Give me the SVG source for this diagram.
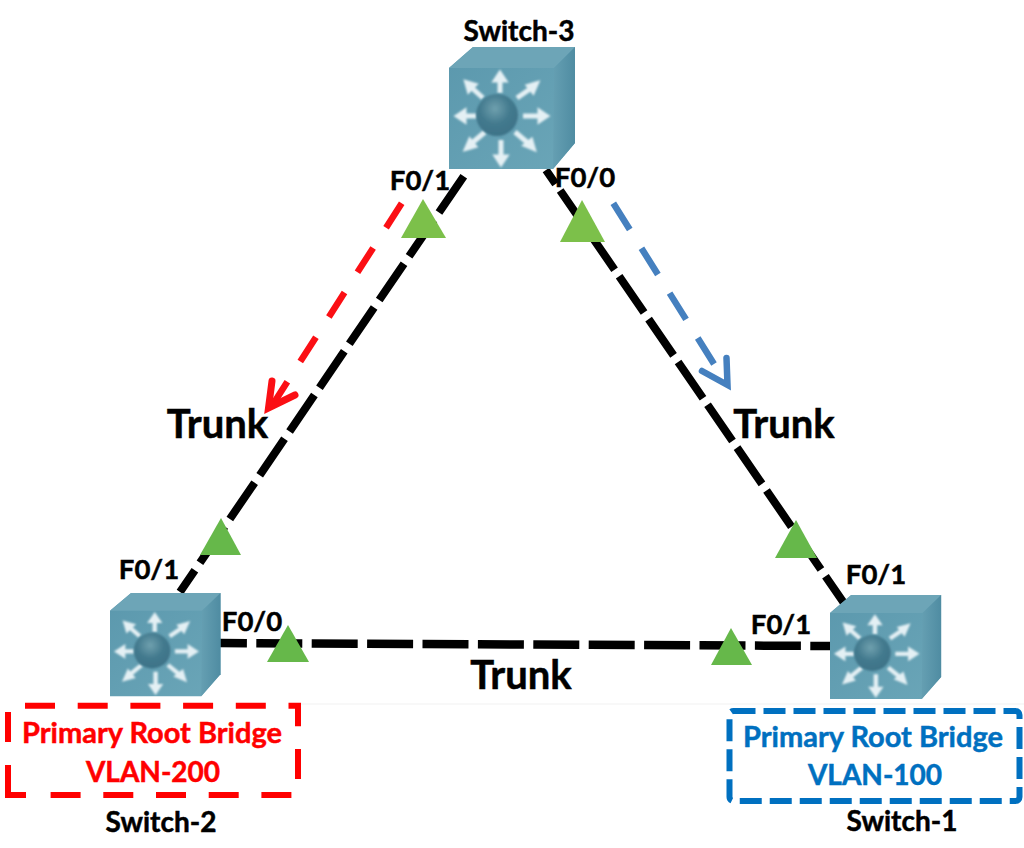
<svg xmlns="http://www.w3.org/2000/svg" xmlns:xlink="http://www.w3.org/1999/xlink" width="1024" height="848" viewBox="0 0 1024 848">
<style>
text{font-family:"Lato","Open Sans","Liberation Sans",sans-serif;font-weight:700;fill:#000;stroke:#000;stroke-width:.5;text-anchor:middle}
.sw{font-size:28px}.port{font-size:27.5px}.trunk{font-size:40px}.rb{font-size:29px}.vl{font-size:28px}
.red{fill:#ff0000;stroke:#ff0000}.blue{fill:#0070c0;stroke:#0070c0}
.link{stroke:#000;fill:none}
.tri{fill:#66b84a}.tri2{fill:#7cc04a}
</style>
<defs>
<filter id="soft" x="-10%" y="-10%" width="120%" height="120%"><feGaussianBlur stdDeviation="1"/></filter>
<linearGradient id="front" x1="0" y1="0" x2="1" y2="1"><stop offset="0" stop-color="#5b98ad"/><stop offset="1" stop-color="#6ba6b8"/></linearGradient>
<linearGradient id="side" x1="0" y1="0" x2="1" y2="0"><stop offset="0" stop-color="#659fb2"/><stop offset="1" stop-color="#4f8ca2"/></linearGradient>
<radialGradient id="ball" cx="0.45" cy="0.35" r="0.65"><stop offset="0" stop-color="#6fa0ae"/><stop offset="0.55" stop-color="#437a8e"/><stop offset="1" stop-color="#3d7287"/></radialGradient>
<g id="switchIcon">
<path d="M0 21L24 0H126V96L104 122H0Z" fill="url(#front)"/>
<path d="M0 21L24 0H126L105 21Z" fill="#6da5b7"/>
<path d="M105 21L126 0V96L104 122Z" fill="url(#side)"/>
<g fill="#e4f0f4" stroke="#e4f0f4" stroke-width="5" filter="url(#soft)">
<path d="M51 46V32M51 27l-4 6h8z"/>
<path d="M52 93V111M52 116l-4-6h8z"/>
<path d="M28 69H14M9 69l6-4v8z"/>
<path d="M74 69H92M97 69l-6-4v8z"/>
<path d="M34 51L23 41M18 36l2 7 5-5z"/>
<path d="M68 51L81 42M87 37l-7 2 4 5z"/>
<path d="M36 85L23 96M18 101l7-2-4-5z"/>
<path d="M66 85L79 96M84 101l-2-7-5 4z"/>
</g>
<circle cx="48" cy="68" r="21" fill="url(#ball)" filter="url(#soft)"/>
</g>
</defs>
<rect width="1024" height="848" fill="#fff"/>
<path d="M296 704H1024" stroke="#f1f1f1" stroke-width="1"/>
<g id="connectors">
<path class="link" stroke-width="8" stroke-dasharray="44 9" stroke-dashoffset="45.5" d="M468 170L180 592"/>
<path class="link" stroke-width="8" stroke-dasharray="44 8" stroke-dashoffset="27" d="M546 170L846 606"/>
<path class="link" stroke-width="8.5" stroke-dasharray="46 9.4" stroke-dashoffset="19.1" d="M220 643L832 646"/>
<path d="M401.7 203.3L268 412" fill="none" stroke="#fb0f14" stroke-width="6.5" stroke-dasharray="29 24"/>
<path d="M272 381L268.5 408L295 395" fill="none" stroke="#fb0f14" stroke-width="7" stroke-linecap="round"/>
<path d="M613.3 203.3L714 364" fill="none" stroke="#4580bf" stroke-width="6.5" stroke-dasharray="31 22"/>
<path d="M726.5 358L727.5 385L702 371" fill="none" stroke="#4580bf" stroke-width="6.5" stroke-linecap="round"/>
</g>
<g id="switch-3"><use href="#switchIcon" xlink:href="#switchIcon" transform="translate(449 47)"/><text class="sw" x="519" y="41">Switch-3</text></g>
<g id="switch-2"><use href="#switchIcon" xlink:href="#switchIcon" transform="translate(110 593) scale(.877 .847)"/><text class="sw" x="161" y="832">Switch-2</text></g>
<g id="switch-1"><use href="#switchIcon" xlink:href="#switchIcon" transform="translate(830 595) scale(.882 .853)"/><text class="sw" x="902" y="831">Switch-1</text></g>
<g id="link-lights">
<path class="tri2" d="M423 199L446 238H401Z"/>
<path class="tri2" d="M582 200L605 242H560Z"/>
<path class="tri" d="M221 518L241 555H200Z"/>
<path class="tri" d="M796 520L817 558H775Z"/>
<path class="tri" d="M288 625L309 662H267Z"/>
<path class="tri" d="M731 628L752 665H711Z"/>
</g>
<g id="ports">
<text class="port" x="420" y="190">F0/1</text>
<text class="port" x="585" y="187">F0/0</text>
<text class="port" x="149" y="579">F0/1</text>
<text class="port" x="252" y="631">F0/0</text>
<text class="port" x="876" y="584">F0/1</text>
<text class="port" x="781" y="634">F0/1</text>
</g>
<g id="trunks">
<text class="trunk" x="217.5" y="438">Trunk</text>
<text class="trunk" x="784" y="438">Trunk</text>
<text class="trunk" x="521" y="689">Trunk</text>
</g>
<g id="root-red" fill="none" stroke="#ff0000" stroke-width="6">
<path d="M25 705.7H298V795H50" stroke-dasharray="30 22.7"/>
<path d="M8 765V795H26M8 712V742"/>
<text class="rb red" x="152" y="743">Primary Root Bridge</text>
<text class="vl red" x="153" y="782">VLAN-200</text>
</g>
<g id="root-blue">
<rect x="729.5" y="711" width="290" height="90" rx="4" fill="none" stroke="#0070c0" stroke-width="6" stroke-dasharray="22 8"/>
<text class="rb blue" x="873" y="747">Primary Root Bridge</text>
<text class="vl blue" x="875" y="785">VLAN-100</text>
</g>
</svg>
